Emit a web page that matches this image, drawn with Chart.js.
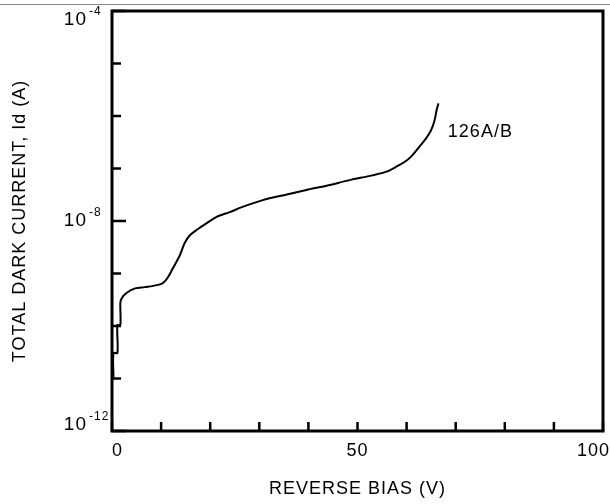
<!DOCTYPE html>
<html>
<head>
<meta charset="utf-8">
<script src="https://cdn.jsdelivr.net/npm/chart.js@4"></script>
<style>
  body { margin: 0; background: #fff; }
</style>
</head>
<body>
<canvas id="chart" width="610" height="504"></canvas>
<script>
// reverse bias (V) and total dark current (A)
const biasV = [0.3, 0.3, 1.1, 1.1, 1.7, 1.7, 2.0, 3.0, 4.7, 6.7, 9.2, 10.4, 11.4, 12.4, 13.8, 14.8,
  15.9, 17.3, 19.3, 21.3, 24.0, 26.6, 30.7, 35.6, 39.6, 43.7, 48.4, 53.0, 55.9, 57.9, 60.0,
  61.2, 62.6, 64.0, 65.0, 65.7, 66.1, 66.5];
const darkCurrent = [1.07e-11, 3.06e-11, 3.06e-11, 1.04e-10, 1.04e-10, 2.75e-10, 3.4e-10, 4.3e-10,
  5.2e-10, 5.5e-10, 6.0e-10, 6.6e-10, 8.5e-10, 1.26e-9, 2.2e-9, 3.8e-9, 5.4e-9, 6.8e-9, 9.1e-9,
  1.2e-8, 1.48e-8, 1.86e-8, 2.5e-8, 3.2e-8, 3.9e-8, 4.7e-8, 6.0e-8, 7.4e-8, 8.7e-8, 1.08e-7,
  1.42e-7, 1.8e-7, 2.6e-7, 3.8e-7, 5.4e-7, 8.3e-7, 1.29e-6, 1.74e-6];

const xTickValues = [0, 10, 20, 30, 40, 50, 60, 70, 80, 90, 100];
const xLabelValues = [0, 50, 100];
const xLabels = ['0', '50', '100'];
const yTickValues = [1e-12, 1e-11, 1e-10, 1e-9, 1e-8, 1e-7, 1e-6, 1e-5, 1e-4];
const yLabelValues = [1e-12, 1e-8, 1e-4];
const yLabelExp = ['-12', '-8', '-4'];
const curveName = '126A/B';
const curveNameAt = [68.4, 5e-7];

Chart.defaults.font.family = '"Liberation Sans", Arial, sans-serif';
Chart.defaults.color = '#000';

// frame, inward ticks, tick labels with exponents, curve name
const decor = {
  id: 'decor',
  beforeDraw(chart) {
    chart.ctx.letterSpacing = '1px';
  },
  afterDraw(chart) {
    const { ctx, chartArea: a, scales: { x, y } } = chart;
    ctx.save();
    ctx.strokeStyle = '#888';
    ctx.lineWidth = 1;
    ctx.beginPath();
    ctx.moveTo(0, 4.5);
    ctx.lineTo(chart.width, 4.5);
    ctx.stroke();

    ctx.strokeStyle = '#000';
    ctx.lineWidth = 3;
    ctx.strokeRect(a.left, a.top, a.right - a.left, a.bottom - a.top);

    ctx.lineWidth = 2.5;
    ctx.beginPath();
    xTickValues.forEach(v => {
      const px = x.getPixelForValue(v);
      ctx.moveTo(px, a.bottom);
      ctx.lineTo(px, a.bottom - 9);
    });
    yTickValues.forEach(v => {
      const py = y.getPixelForValue(v);
      const len = yLabelValues.includes(v) ? 14 : 9;
      ctx.moveTo(a.left, py);
      ctx.lineTo(a.left + len, py);
    });
    ctx.stroke();

    ctx.fillStyle = '#000';
    ctx.textBaseline = 'top';
    ctx.font = '18px "Liberation Sans", Arial, sans-serif';
    xLabelValues.forEach((v, i) => {
      let px = x.getPixelForValue(v);
      ctx.textAlign = 'center';
      if (i === 0) { ctx.textAlign = 'left'; px = a.left; }
      if (i === xLabelValues.length - 1) { ctx.textAlign = 'right'; px = chart.width; }
      ctx.fillText(xLabels[i], px, a.bottom + 11);
    });

    ctx.textBaseline = 'middle';
    yLabelValues.forEach((v, i) => {
      const py = Math.min(Math.max(y.getPixelForValue(v), a.top + 8.5), a.bottom - 6);
      ctx.font = '19px "Liberation Sans", Arial, sans-serif';
      ctx.textAlign = 'right';
      ctx.fillText('10', a.left - 25, py);
      ctx.font = '12px "Liberation Sans", Arial, sans-serif';
      ctx.textAlign = 'left';
      ctx.fillText(yLabelExp[i], a.left - 23, py - 8);
    });

    ctx.font = '18px "Liberation Sans", Arial, sans-serif';
    ctx.textAlign = 'left';
    ctx.fillText(curveName, x.getPixelForValue(curveNameAt[0]), y.getPixelForValue(curveNameAt[1]));
    ctx.restore();
  }
};

new Chart(document.getElementById('chart'), {
  type: 'line',
  data: {
    datasets: [{
      label: curveName,
      data: biasV.map((v, i) => ({ x: v, y: darkCurrent[i] })),
      borderColor: '#000',
      borderWidth: 2,
      pointRadius: 0,
      tension: 0.3,
      fill: false
    }]
  },
  options: {
    responsive: false,
    animation: false,
    layout: { padding: { top: 11, right: 7, left: 0, bottom: 0 } },
    plugins: { legend: { display: false }, tooltip: { enabled: false } },
    scales: {
      x: {
        type: 'linear',
        min: 0,
        max: 100,
        grid: { display: false },
        border: { display: false },
        ticks: { display: false },
        title: {
          display: true,
          text: 'REVERSE BIAS (V)',
          font: { size: 18 },
          padding: { top: 4, bottom: 4 }
        },
        afterFit(s) { s.height = 73; }
      },
      y: {
        type: 'logarithmic',
        min: 1e-12,
        max: 1e-4,
        grid: { display: false },
        border: { display: false },
        ticks: { display: false },
        title: {
          display: true,
          text: 'TOTAL DARK CURRENT, Id (A)',
          font: { size: 18 },
          padding: { top: 9, bottom: 4 }
        },
        afterFit(s) { s.width = 112; }
      }
    }
  },
  plugins: [decor]
});
</script>
</body>
</html>
